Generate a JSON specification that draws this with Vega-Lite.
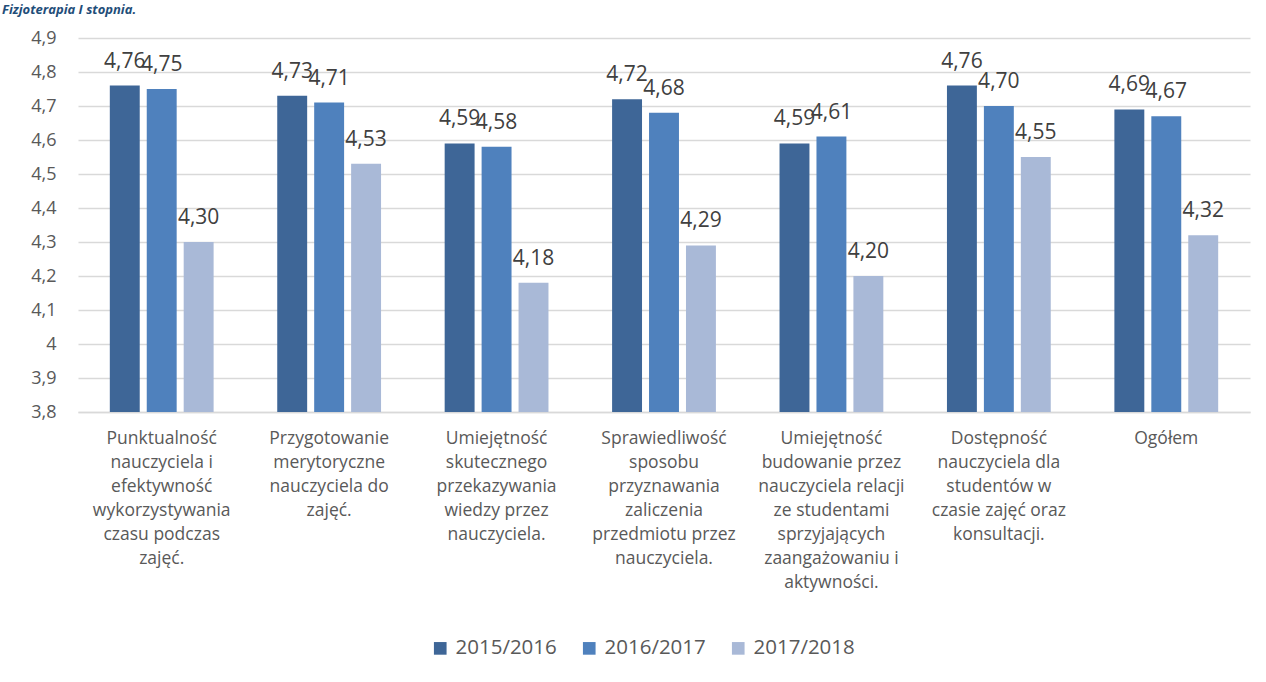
{
  "$schema": "https://vega.github.io/schema/vega-lite/v6.json",
  "autosize": {"type": "none"},
  "width": 1172,
  "height": 374,
  "padding": {"left": 78, "top": 38, "right": 16, "bottom": 270},
  "background": "white",
  "title": {
    "text": "Fizjoterapia I stopnia.",
    "anchor": "start",
    "frame": "group",
    "orient": "top",
    "dx": -76,
    "dy": -8,
    "font": "Open Sans",
    "fontSize": 13,
    "fontWeight": "bold",
    "fontStyle": "italic",
    "color": "#1f4e79"
  },
  "config": {
    "view": {"stroke": null},
    "font": "Open Sans",
    "locale": {"number": {"decimal": ",", "thousands": " ", "grouping": [3], "currency": ["", ""]}}
  },
  "data": {
    "values": [
      {"cat": "Punktualność|nauczyciela i|efektywność|wykorzystywania|czasu podczas|zajęć.", "ord": 1, "year": "2015/2016", "v": 4.76},
      {"cat": "Punktualność|nauczyciela i|efektywność|wykorzystywania|czasu podczas|zajęć.", "ord": 1, "year": "2016/2017", "v": 4.75},
      {"cat": "Punktualność|nauczyciela i|efektywność|wykorzystywania|czasu podczas|zajęć.", "ord": 1, "year": "2017/2018", "v": 4.30},
      {"cat": "Przygotowanie|merytoryczne|nauczyciela do|zajęć.", "ord": 2, "year": "2015/2016", "v": 4.73},
      {"cat": "Przygotowanie|merytoryczne|nauczyciela do|zajęć.", "ord": 2, "year": "2016/2017", "v": 4.71},
      {"cat": "Przygotowanie|merytoryczne|nauczyciela do|zajęć.", "ord": 2, "year": "2017/2018", "v": 4.53},
      {"cat": "Umiejętność|skutecznego|przekazywania|wiedzy przez|nauczyciela.", "ord": 3, "year": "2015/2016", "v": 4.59},
      {"cat": "Umiejętność|skutecznego|przekazywania|wiedzy przez|nauczyciela.", "ord": 3, "year": "2016/2017", "v": 4.58},
      {"cat": "Umiejętność|skutecznego|przekazywania|wiedzy przez|nauczyciela.", "ord": 3, "year": "2017/2018", "v": 4.18},
      {"cat": "Sprawiedliwość|sposobu|przyznawania|zaliczenia|przedmiotu przez|nauczyciela.", "ord": 4, "year": "2015/2016", "v": 4.72},
      {"cat": "Sprawiedliwość|sposobu|przyznawania|zaliczenia|przedmiotu przez|nauczyciela.", "ord": 4, "year": "2016/2017", "v": 4.68},
      {"cat": "Sprawiedliwość|sposobu|przyznawania|zaliczenia|przedmiotu przez|nauczyciela.", "ord": 4, "year": "2017/2018", "v": 4.29},
      {"cat": "Umiejętność|budowanie przez|nauczyciela relacji|ze studentami|sprzyjających|zaangażowaniu i|aktywności.", "ord": 5, "year": "2015/2016", "v": 4.59},
      {"cat": "Umiejętność|budowanie przez|nauczyciela relacji|ze studentami|sprzyjających|zaangażowaniu i|aktywności.", "ord": 5, "year": "2016/2017", "v": 4.61},
      {"cat": "Umiejętność|budowanie przez|nauczyciela relacji|ze studentami|sprzyjających|zaangażowaniu i|aktywności.", "ord": 5, "year": "2017/2018", "v": 4.20},
      {"cat": "Dostępność|nauczyciela dla|studentów w|czasie zajęć oraz|konsultacji.", "ord": 6, "year": "2015/2016", "v": 4.76},
      {"cat": "Dostępność|nauczyciela dla|studentów w|czasie zajęć oraz|konsultacji.", "ord": 6, "year": "2016/2017", "v": 4.70},
      {"cat": "Dostępność|nauczyciela dla|studentów w|czasie zajęć oraz|konsultacji.", "ord": 6, "year": "2017/2018", "v": 4.55},
      {"cat": "Ogółem", "ord": 7, "year": "2015/2016", "v": 4.69},
      {"cat": "Ogółem", "ord": 7, "year": "2016/2017", "v": 4.67},
      {"cat": "Ogółem", "ord": 7, "year": "2017/2018", "v": 4.32}
    ]
  },
  "encoding": {
    "x": {
      "field": "cat",
      "type": "nominal",
      "sort": {"field": "ord", "op": "min"},
      "scale": {"paddingInner": 0.38, "paddingOuter": 0.19},
      "axis": {
        "title": null,
        "labelAngle": 0,
        "labelExpr": "split(datum.label, '|')",
        "labelFont": "Open Sans",
        "labelFontSize": 17.5,
        "labelColor": "#595959",
        "labelLineHeight": 24,
        "labelPadding": 17,
        "labelBaseline": "top",
        "ticks": false,
        "domainColor": "#d9d9d9",
        "domainWidth": 1.5,
        "labelLimit": 0
      }
    },
    "xOffset": {"field": "year", "type": "nominal", "scale": {"paddingInner": 0.19}},
    "y": {
      "field": "v",
      "type": "quantitative",
      "scale": {"domain": [3.8, 4.9], "zero": false, "nice": false},
      "axis": {
        "title": null,
        "values": [3.8, 3.9, 4.0, 4.1, 4.2, 4.3, 4.4, 4.5, 4.6, 4.7, 4.8, 4.9],
        "labelExpr": "replace(toString(round(datum.value*10)/10), '.', ',')",
        "labelFont": "Open Sans",
        "labelFontSize": 18,
        "labelColor": "#595959",
        "labelPadding": 22,
        "ticks": false,
        "domain": false,
        "gridColor": "#d9d9d9",
        "gridWidth": 1.5
      }
    }
  },
  "layer": [
    {
      "mark": {"type": "bar", "clip": true},
      "encoding": {
        "color": {
          "field": "year",
          "type": "nominal",
          "scale": {"domain": ["2015/2016", "2016/2017", "2017/2018"], "range": ["#3e6697", "#4f81bd", "#a9b9d7"]},
          "legend": {
            "title": null,
            "orient": "none",
            "direction": "horizontal",
            "legendX": 352,
            "legendY": 600,
            "symbolType": "square",
            "symbolSize": 160,
            "symbolStrokeWidth": 0,
            "labelFont": "Open Sans",
            "labelFontSize": 20.5,
            "labelColor": "#595959",
            "columnPadding": 22,
            "labelOffset": 5
          }
        }
      }
    },
    {
      "mark": {"type": "text", "baseline": "bottom", "dy": -14, "font": "Open Sans", "fontSize": 21, "color": "#404040"},
      "encoding": {
        "text": {"field": "v", "type": "quantitative", "format": ".2f"}
      }
    }
  ]
}
